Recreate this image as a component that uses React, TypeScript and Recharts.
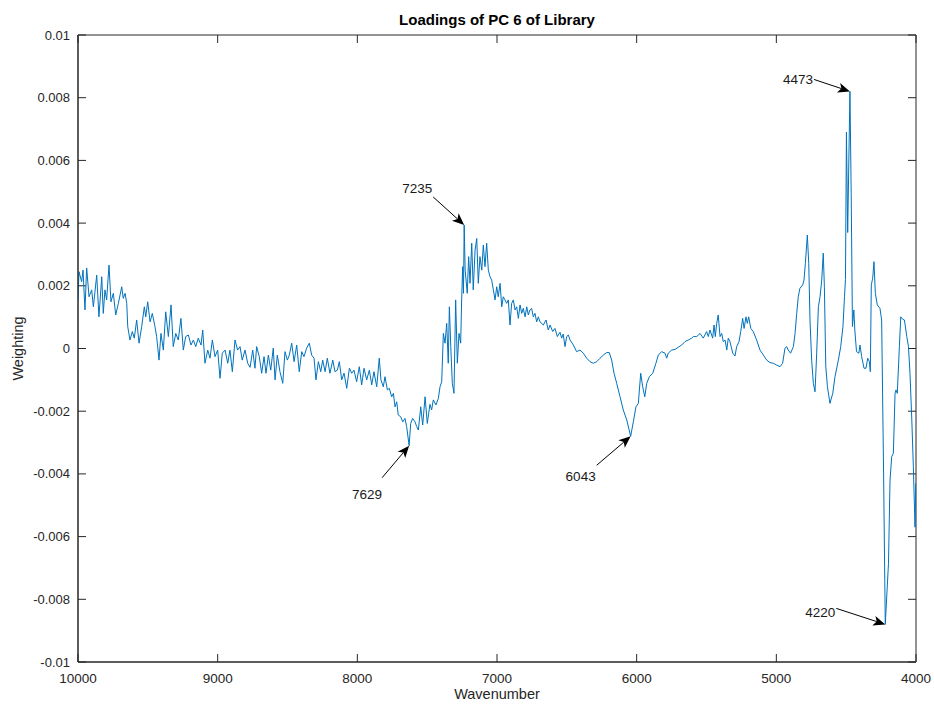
import React from 'react';
import { LineChart, Line, XAxis, YAxis, ReferenceDot, ReferenceLine, ReferenceArea, Label } from 'recharts';

// [wavenumber (cm^-1), weighting]
const spectrum: [number, number][] = [
  [10000, 0.00155], [9993, 0.00245], [9974, 0.00213], [9964, 0.0025], [9950, 0.00123],
  [9938, 0.00257], [9921, 0.00165], [9902, 0.00187], [9890, 0.00133], [9866, 0.00234],
  [9850, 0.00101], [9830, 0.00229], [9819, 0.00112], [9807, 0.00187], [9795, 0.00155],
  [9778, 0.00266], [9764, 0.00149], [9747, 0.00176], [9730, 0.00107], [9711, 0.00144],
  [9687, 0.00197], [9676, 0.0016], [9663, 0.00176], [9651, 0.00144], [9644, 0.0007],
  [9628, 0.00027], [9611, 0.00054], [9597, 0.00033], [9580, 0.00091], [9563, 0.00017],
  [9544, 0.0007], [9525, 0.00133], [9515, 0.00101], [9501, 0.00149], [9484, 0.00085],
  [9468, 0.00112], [9449, 0.0007], [9437, 0.00038], [9420, -0.00037], [9406, 0.00048],
  [9389, -0.00005], [9372, 0.00117], [9353, 0.00038], [9334, 0.00139], [9318, 0.00006],
  [9300, 0.00048], [9282, 0.00027], [9263, 0.00096], [9246, -0.00005], [9229, 0.00038],
  [9210, 0.00043], [9191, 0.00011], [9174, 0.00027], [9157, 0.00006], [9139, 0.00033],
  [9119, 0.00011], [9107, 0.00059], [9091, -0.00047], [9071, -0.00005], [9055, -0.00031],
  [9038, 0.00027], [9019, -0.00026], [9000, -0.00005], [8983, -0.00095], [8967, -0.00015],
  [8947, -0.00005], [8928, -0.00047], [8912, -0.00005], [8895, -0.00074], [8876, 0.00027],
  [8857, -0.00005], [8840, 0.00006], [8824, -0.00037], [8804, -0.00005], [8785, -0.00047],
  [8768, -0.0006], [8749, -0.00005], [8733, -0.00063], [8721, 0.00006], [8702, -0.00026],
  [8685, -0.00079], [8668, -0.00026], [8654, -0.00079], [8637, -0.00021], [8620, -0.00069],
  [8602, 0.00001], [8589, -0.001], [8573, -0.00021], [8554, -0.00074], [8534, -0.00111],
  [8518, -0.0001], [8501, -0.00037], [8487, -0.00021], [8470, 0.00017], [8453, -0.00042],
  [8434, 0.00011], [8416, -0.00074], [8398, -0.0001], [8382, -0.00026], [8363, 0.00001],
  [8344, 0.00017], [8327, -0.00021], [8310, -0.00031], [8296, -0.001], [8279, -0.00042],
  [8262, -0.00074], [8248, -0.00037], [8231, -0.00074], [8215, -0.00031], [8196, -0.00079],
  [8176, -0.00037], [8160, -0.00074], [8143, -0.00069], [8129, -0.00042], [8112, -0.001],
  [8095, -0.00079], [8076, -0.00127], [8057, -0.00063], [8040, -0.00079], [8024, -0.00069],
  [8005, -0.00106], [7986, -0.00058], [7969, -0.00116], [7952, -0.00063], [7933, -0.001],
  [7914, -0.00069], [7897, -0.00116], [7881, -0.00074], [7861, -0.00122], [7843, -0.00031],
  [7831, -0.001], [7814, -0.00122], [7802, -0.0009], [7785, -0.00132], [7771, -0.00127],
  [7754, -0.00154], [7742, -0.00143], [7730, -0.00186], [7718, -0.0017], [7707, -0.00212],
  [7689, -0.00218], [7675, -0.00234], [7659, -0.00223], [7647, -0.00249], [7629, -0.0031],
  [7618, -0.00239], [7604, -0.00223], [7587, -0.00234], [7575, -0.00249], [7563, -0.0026],
  [7546, -0.00186], [7532, -0.00244], [7515, -0.00154], [7499, -0.00239], [7480, -0.00178],
  [7468, -0.00196], [7456, -0.00164], [7437, -0.0018], [7420, -0.00159], [7408, -0.00122],
  [7396, -0.00106], [7384, 0.00048], [7372, 0.00017], [7360, 0.0008], [7349, -0.00047],
  [7341, 0.00133], [7331, 0.00006], [7320, -0.00111], [7308, -0.00143], [7296, 0.00155],
  [7284, -0.00047], [7272, 0.00048], [7260, 0.00017], [7253, 0.00155], [7246, 0.00261],
  [7240, 0.00176], [7235, 0.00394], [7228, 0.0025], [7213, 0.00176], [7203, 0.00293],
  [7193, 0.00208], [7181, 0.00336], [7170, 0.00187], [7157, 0.00314], [7145, 0.00351],
  [7134, 0.00208], [7122, 0.00293], [7109, 0.0025], [7098, 0.0033], [7086, 0.00261],
  [7074, 0.00336], [7062, 0.0025], [7050, 0.00229], [7038, 0.00218], [7026, 0.00187],
  [7014, 0.00155], [7002, 0.00197], [6991, 0.00165], [6978, 0.00208], [6966, 0.00133],
  [6955, 0.00165], [6943, 0.00155], [6931, 0.00144], [6919, 0.00155], [6907, 0.00075],
  [6895, 0.00144], [6883, 0.00155], [6871, 0.00123], [6859, 0.00133], [6847, 0.00096],
  [6835, 0.00139], [6823, 0.00112], [6812, 0.00128], [6799, 0.00101], [6787, 0.00133],
  [6776, 0.00107], [6764, 0.00123], [6752, 0.00128], [6740, 0.00101], [6728, 0.00112],
  [6716, 0.00085], [6704, 0.00101], [6692, 0.00085], [6668, 0.00075], [6649, 0.00091],
  [6633, 0.00059], [6620, 0.00075], [6601, 0.00054], [6585, 0.00064], [6568, 0.00038],
  [6549, 0.00052], [6537, 0.00033], [6526, 0.00046], [6513, 0.00006], [6501, 0.00038],
  [6489, 0.00043], [6477, 0.00027], [6453, 0.00011], [6430, -0.0001], [6406, -0.00005],
  [6382, -0.00015], [6358, -0.00031], [6334, -0.00042], [6310, -0.00047], [6286, -0.00042],
  [6262, -0.00031], [6239, -0.00021], [6215, -0.00013], [6196, -0.00013], [6179, -0.00037],
  [6162, -0.00079], [6143, -0.00111], [6119, -0.00154], [6096, -0.00196], [6071, -0.00228],
  [6043, -0.0028], [6024, -0.00234], [6005, -0.00186], [5988, -0.00175], [5971, -0.00079],
  [5957, -0.00122], [5942, -0.00154], [5928, -0.00111], [5909, -0.0009], [5885, -0.00079],
  [5862, -0.00047], [5845, -0.00021], [5821, -0.0001], [5797, -0.00015], [5785, -0.00031],
  [5774, -0.00015], [5749, -0.00005], [5725, -0.00003], [5702, 0.00004], [5678, 0.00011],
  [5654, 0.00022], [5630, 0.00027], [5606, 0.00033], [5594, 0.00038], [5570, 0.00038],
  [5546, 0.00048], [5523, 0.00033], [5499, 0.00054], [5487, 0.00038], [5475, 0.00059],
  [5456, 0.00033], [5446, 0.00075], [5437, 0.00038], [5427, 0.0008], [5416, 0.00107],
  [5403, 0.00038], [5391, 0.00048], [5380, 0.00022], [5367, 0.00027], [5355, -0.00005],
  [5344, 0.00033], [5332, 0.00022], [5312, -0.00015], [5296, -0.00024], [5284, 0.00006],
  [5267, 0.00022], [5255, 0.00054], [5241, 0.00096], [5231, 0.00064], [5217, 0.00101],
  [5208, 0.0008], [5198, 0.00101], [5183, 0.00064], [5165, 0.00054], [5141, 0.00027],
  [5117, -0.00005], [5093, -0.00021], [5069, -0.00037], [5045, -0.00045], [5022, -0.00047],
  [4997, -0.00053], [4974, -0.00058], [4955, -0.00047], [4938, 0.00001], [4926, 0.00006],
  [4915, -0.00005], [4898, -0.00015], [4878, 0.00006], [4866, 0.00048], [4854, 0.00112],
  [4843, 0.00165], [4831, 0.00192], [4811, 0.00203], [4802, 0.00218], [4792, 0.00272],
  [4778, 0.00362], [4768, 0.00272], [4759, 0.00091], [4747, -0.00037], [4735, -0.00111],
  [4723, -0.00138], [4711, -0.00015], [4699, 0.00133], [4687, 0.00165], [4675, 0.00218],
  [4664, 0.00304], [4656, 0.00197], [4646, -0.00058], [4634, -0.00122], [4616, -0.00175],
  [4596, -0.00143], [4580, -0.0009], [4556, -0.00037], [4539, 0.00006], [4523, 0.0007],
  [4512, 0.00165], [4505, 0.0022], [4498, 0.0069], [4489, 0.0037], [4473, 0.0082],
  [4464, 0.00495], [4455, 0.0007], [4445, 0.00123], [4438, 0.00059], [4426, -0.0001],
  [4409, -0.00015], [4401, 0.00011], [4389, -0.00026], [4372, -0.00063], [4358, -0.00063],
  [4346, -0.00031], [4334, -0.00042], [4327, -0.00074], [4320, 0.00203], [4310, 0.00224],
  [4301, 0.00277], [4291, 0.00176], [4277, 0.00139], [4258, 0.00128], [4246, 0.00091],
  [4232, -0.004], [4220, -0.0088], [4197, -0.00685], [4186, -0.0042], [4174, -0.00345],
  [4162, -0.00334], [4150, -0.00143], [4143, -0.00132], [4134, -0.00143], [4119, 0.00006],
  [4109, 0.00101], [4095, 0.00093], [4083, 0.00091], [4066, 0.00038], [4054, 0.00006],
  [4043, -0.00079], [4030, -0.00228], [4019, -0.00377], [4007, -0.0057], [4002, -0.0043],
];

const xTicks = [10000, 9000, 8000, 7000, 6000, 5000, 4000];
const yTicks = [0.01, 0.008, 0.006, 0.004, 0.002, 0, -0.002, -0.004, -0.006, -0.008, -0.01];
const xDomain = [4000, 10000];
const yDomain = [-0.01, 0.01];

const peaks = [
  { wn: 7235, value: 0.00394, text: '7235' },
  { wn: 7629, value: -0.0031, text: '7629' },
  { wn: 6043, value: -0.0028, text: '6043' },
  { wn: 4473, value: 0.0082, text: '4473' },
  { wn: 4220, value: -0.0088, text: '4220' },
];

const titleText = 'Loadings of PC 6 of Library';
const xLabelText = 'Wavenumber';
const yLabelText = 'Weighting';

const table = spectrum.map(([wn, w]) => ({ wn, w }));

const AXIS = '#262626';
const FONT = '"Liberation Sans", Arial, Helvetica, sans-serif';
const TICK_LEN = 8;
const fmtY = (v: number) => String(Number(Number(v).toFixed(3)));

// arrow tail offset (tx, ty) and text offset (lx, ly) relative to the annotated point
const arrowStyle: Record<string, { tx: number; ty: number; lx: number; ly: number }> = {
  '7235': { tx: -31, ty: -28, lx: -32, ly: -32 },
  '7629': { tx: -27, ty: 32, lx: -27, ly: 53 },
  '6043': { tx: -34, ty: 29, lx: -35, ly: 45 },
  '4473': { tx: -36, ty: -12, lx: -37, ly: -7 },
  '4220': { tx: -49, ty: -16, lx: -50, ly: -7 },
};

const makeArrow = (label: string) => (props: any) => {
  const { cx, cy } = props;
  if (cx == null || cy == null) return <g />;
  const s = arrowStyle[label];
  const x0 = cx + s.tx;
  const y0 = cy + s.ty;
  const dx = cx - x0;
  const dy = cy - y0;
  const len = Math.hypot(dx, dy);
  const ux = dx / len;
  const uy = dy / len;
  const nx = -uy;
  const ny = ux;
  const L = 12;
  const W = 5;
  const N = 9;
  const bx = cx - ux * L;
  const by = cy - uy * L;
  const pts = `${cx},${cy} ${bx + nx * W},${by + ny * W} ${cx - ux * N},${cy - uy * N} ${bx - nx * W},${by - ny * W}`;
  return (
    <g>
      <line x1={x0} y1={y0} x2={cx - ux * N} y2={cy - uy * N} stroke="#000" strokeWidth={1} />
      <polygon points={pts} fill="#000" />
      <text x={cx + s.lx} y={cy + s.ly} textAnchor="end" fontSize={13.5} fontFamily={FONT} fill="#1a1a1a">
        {label}
      </text>
    </g>
  );
};

// inward tick marks on both ends of a reference line spanning the plot
const VerticalTicks = (props: any) => {
  const { x1, y1, y2 } = props;
  if (x1 == null) return <g />;
  const top = Math.min(y1, y2);
  const bottom = Math.max(y1, y2);
  return (
    <g>
      <line x1={x1} y1={top} x2={x1} y2={top + TICK_LEN} stroke={AXIS} strokeWidth={1} />
      <line x1={x1} y1={bottom} x2={x1} y2={bottom - TICK_LEN} stroke={AXIS} strokeWidth={1} />
    </g>
  );
};

const HorizontalTicks = (props: any) => {
  const { x1, x2, y1 } = props;
  if (y1 == null) return <g />;
  const left = Math.min(x1, x2);
  const right = Math.max(x1, x2);
  return (
    <g>
      <line x1={left} y1={y1} x2={left + TICK_LEN} y2={y1} stroke={AXIS} strokeWidth={1} />
      <line x1={right} y1={y1} x2={right - TICK_LEN} y2={y1} stroke={AXIS} strokeWidth={1} />
    </g>
  );
};

const LeftTick = ({ x, y, payload }: any) => (
  <text x={x - 8} y={y} dy="0.35em" textAnchor="end" fontSize={13} fontFamily={FONT} fill={AXIS}>
    {fmtY(payload.value)}
  </text>
);

const BottomTick = ({ x, y, payload }: any) => (
  <text x={x} y={y + 16} dy="0.35em" textAnchor="middle" fontSize={13.5} fontFamily={FONT} fill={AXIS}>
    {String(payload.value)}
  </text>
);

export default function App() {
  return (
    <div style={{ position: 'absolute', left: 0, top: 0, width: 934, height: 706, background: '#fff' }}>
      <LineChart width={934} height={706} data={table} margin={{ top: 35, right: 18, bottom: 0, left: 0 }}>
        <XAxis
          dataKey="wn"
          type="number"
          domain={xDomain}
          reversed
          ticks={xTicks}
          interval={0}
          height={44}
          tickSize={0}
          tickMargin={0}
          tickLine={false}
          tick={<BottomTick />}
          stroke={AXIS}
          allowDataOverflow
        >
          <Label
            content={(p: any) => {
              const vb = p.viewBox;
              return (
                <text x={vb.x + vb.width / 2} y={vb.y + 32} dy="0.35em" textAnchor="middle" fontSize={14.5} fontFamily={FONT} fill={AXIS}>
                  {xLabelText}
                </text>
              );
            }}
          />
        </XAxis>
        <YAxis
          type="number"
          domain={yDomain}
          ticks={yTicks}
          interval={0}
          width={78}
          tickSize={0}
          tickMargin={0}
          tickLine={false}
          tick={<LeftTick />}
          stroke={AXIS}
          allowDataOverflow
        >
          <Label
            content={(p: any) => {
              const vb = p.viewBox;
              const cx = vb.x + 18;
              const cy = vb.y + vb.height / 2;
              return (
                <text x={cx} y={cy} dy="0.35em" textAnchor="middle" fontSize={14.5} fontFamily={FONT} fill={AXIS} transform={`rotate(-90 ${cx} ${cy})`}>
                  {yLabelText}
                </text>
              );
            }}
          />
        </YAxis>
        <ReferenceArea
          x1={xDomain[1]}
          x2={xDomain[0]}
          y1={yDomain[0]}
          y2={yDomain[1]}
          fill="none"
          fillOpacity={0}
          stroke={AXIS}
          strokeWidth={1}
          strokeOpacity={1}
        >
          <Label
            content={(p: any) => {
              const vb = p.viewBox;
              if (!vb) return null;
              return (
                <text x={vb.x + vb.width / 2} y={vb.y - 15} dy="0.35em" textAnchor="middle" fontSize={15} fontWeight="bold" fontFamily={FONT} fill="#000">
                  {titleText}
                </text>
              );
            }}
          />
        </ReferenceArea>
        {xTicks.map((t) => (
          <ReferenceLine key={'x' + t} x={t} stroke={AXIS} shape={VerticalTicks} />
        ))}
        {yTicks.map((t) => (
          <ReferenceLine key={'y' + t} y={t} stroke={AXIS} shape={HorizontalTicks} />
        ))}
        <Line
          dataKey="w"
          type="linear"
          stroke="#0072BD"
          strokeWidth={1}
          dot={false}
          activeDot={false}
          isAnimationActive={false}
        />
        {peaks.map((p) => (
          <ReferenceDot key={p.text} x={p.wn} y={p.value} r={0} shape={makeArrow(p.text)} />
        ))}
      </LineChart>
    </div>
  );
}
